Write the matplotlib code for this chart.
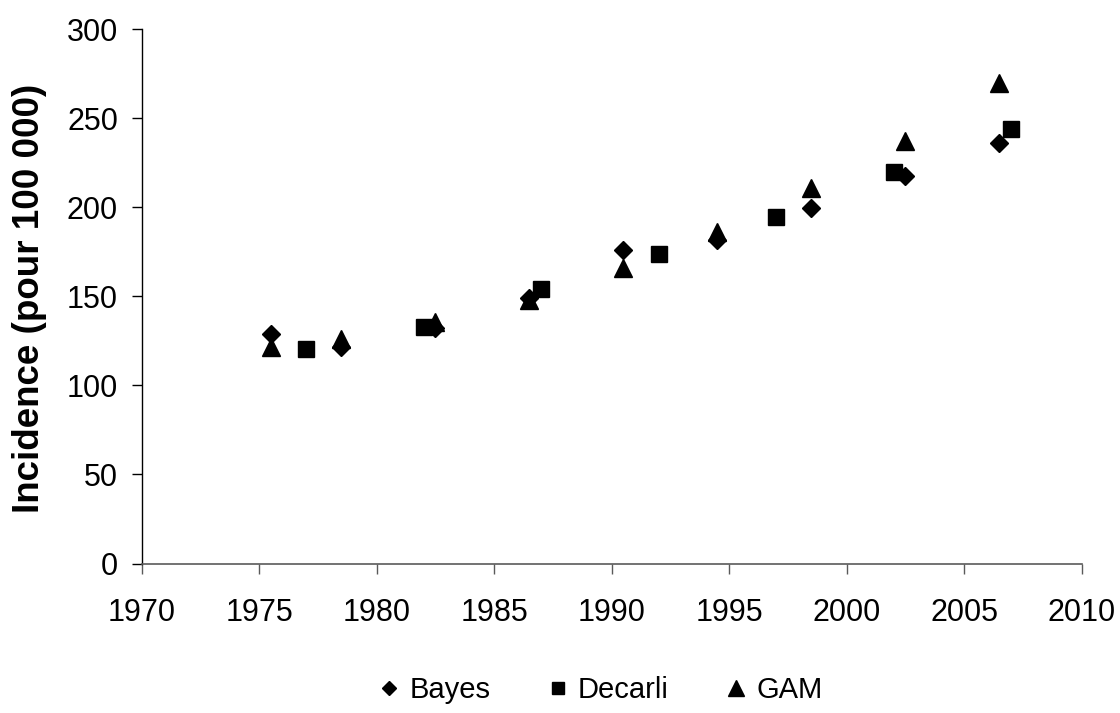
import matplotlib
matplotlib.use("Agg")
import matplotlib.pyplot as plt

plt.rcParams['font.family'] = ['Liberation Sans', 'DejaVu Sans']

bayes_years = [1975.5, 1978.5, 1982.5, 1986.5, 1990.5, 1994.5, 1998.5, 2002.5, 2006.5]
bayes_vals = [129, 121.5, 132, 149, 176, 181.5, 199.5, 217.5, 236]

decarli_years = [1977, 1982, 1987, 1992, 1997, 2002, 2007]
decarli_vals = [120.5, 133, 154, 174, 194.5, 220, 244]

gam_years = [1975.5, 1978.5, 1982.5, 1986.5, 1990.5, 1994.5, 1998.5, 2002.5, 2006.5]
gam_vals = [121.5, 126, 135.5, 148, 166, 186, 211, 237.5, 270]

xticks = list(range(1970, 2011, 5))
yticks = list(range(0, 301, 50))

fig = plt.figure(figsize=(11.2, 7.13), dpi=100)
ax = fig.add_axes([141.7/1120, 1-563.5/713, 940/1120, (563.5-29.3)/713])

ax.plot(bayes_years, bayes_vals, linestyle='none', marker='D', ms=8.9, color='black', label='Bayes')
ax.plot(decarli_years, decarli_vals, linestyle='none', marker='s', ms=11, color='black', label='Decarli')
ax.plot(gam_years, gam_vals, linestyle='none', marker='^', ms=12.8, color='black', label='GAM')

ax.set_xlim(1970, 2010)
ax.set_ylim(0, 300)
ax.set_xticks(xticks)
ax.set_yticks(yticks)
ax.set_xticklabels([str(v) for v in xticks])
ax.set_yticklabels([str(v) for v in yticks])

for s in ['top', 'right']:
    ax.spines[s].set_visible(False)
ax.spines['left'].set_color('black')
ax.spines['bottom'].set_color('#5a5a5a')
ax.spines['left'].set_linewidth(1.0)
ax.spines['bottom'].set_linewidth(1.2)

ax.tick_params(axis='x', direction='out', length=7, width=1.0, color='#5a5a5a', labelsize=22, pad=18)
ax.tick_params(axis='y', direction='out', length=7, width=1.0, color='black', labelsize=22, pad=10)

fig.text(30/1120, 1-298/713, 'Incidence (pour 100 000)', rotation=90, ha='center', va='center',
         fontsize=26.5, fontweight='bold')

handles, labels = ax.get_legend_handles_labels()
fig.legend(handles, labels, loc='center', bbox_to_anchor=(600/1120, 1-690/713), ncol=3,
           frameon=False, fontsize=21, markerscale=0.85, handlelength=0.8, handletextpad=0.3,
           columnspacing=1.9, borderpad=0, borderaxespad=0)

fig.savefig('out.png', dpi=100)
